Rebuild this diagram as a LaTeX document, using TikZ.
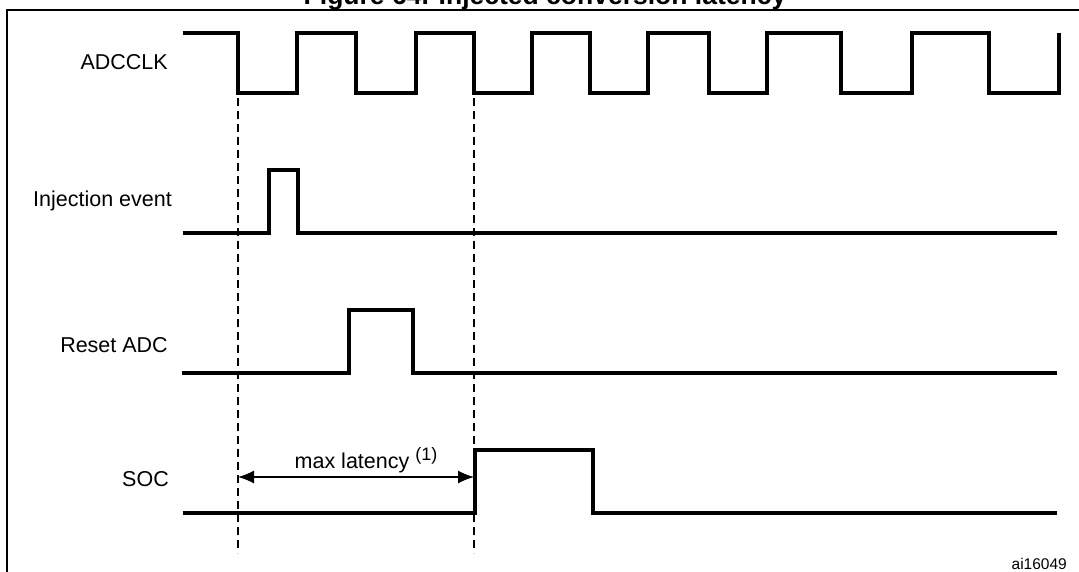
\documentclass[tikz,border=0pt]{standalone}
\usepackage{fontspec}
\setmainfont{Liberation Sans}
\usetikzlibrary{arrows.meta}

\begin{document}
\begin{tikzpicture}[x=1pt,y=-1pt,
    sig/.style={line width=3.6pt},
    guide/.style={line width=1.3pt,dash pattern=on 8pt off 5pt},
    lbl/.style={anchor=base east,inner sep=0pt,font=\fontsize{21.5}{24}\selectfont}]
\useasboundingbox (0,0) rectangle (1079,571);
\clip (0,0) rectangle (1079,571);
% frame and title
\draw[line width=1.8pt] (7,590) -- (7,10) -- (1090,10);
\node[anchor=base,inner sep=0pt,font=\bfseries\fontsize{26.5}{30}\selectfont] (title) at (545,4) {Figure 64. Injected conversion latency};

% signal names
\node[lbl] (clk) at (168,69) {ADCCLK};
\node[lbl] (inj) at (172,206) {Injection event};
\node[lbl] (rst) at (168,352) {Reset ADC};
\node[lbl] (soc) at (169,486) {SOC};

% dashed guides
\coordinate (g1) at (238,98);  \coordinate (g1end) at (238,553);
\coordinate (g2) at (474,98);  \coordinate (g2end) at (474,553);
\draw[guide] (g1) -- (g1end);
\draw[guide] (g2) -- (g2end);

% waveforms
\draw[sig] (183,33) -- (238,33) -- (238,93) -- (297,93) -- (297,33)
    -- (356,33) -- (356,93) -- (416,93) -- (416,33) -- (474,33) -- (474,93)
    -- (532,93) -- (532,33) -- (590,33) -- (590,93) -- (648,93) -- (648,33)
    -- (709,33) -- (709,93) -- (767,93) -- (767,33) -- (841,33) -- (841,93)
    -- (912,93) -- (912,33) -- (989,33) -- (989,93) -- (1059,93) -- (1059,33);
\draw[sig] (183,233) -- (269,233) -- (269,170) -- (298,170) -- (298,233) -- (1057,233);
\draw[sig] (182,373) -- (349,373) -- (349,310) -- (413,310) -- (413,373) -- (1057,373);
\draw[sig] (183,513) -- (475,513) -- (475,450) -- (593,450) -- (593,513) -- (1057,513);

% latency
\coordinate (a1) at (238,477);
\coordinate (a2) at (474,477);
\draw[{Latex[length=16pt,width=13pt]}-{Latex[length=16pt,width=13pt]},line width=1.3pt] (a1) -- (a2);
\node[anchor=base,inner sep=0pt,font=\fontsize{21.5}{24}\selectfont] (lat) at (366,468)
    {max latency \raisebox{8pt}{\fontsize{18}{20}\selectfont(1)}};

\node[anchor=base east,inner sep=0pt,font=\fontsize{15.5}{18}\selectfont] (ref) at (1067,569) {ai16049};
\end{tikzpicture}
\end{document}
